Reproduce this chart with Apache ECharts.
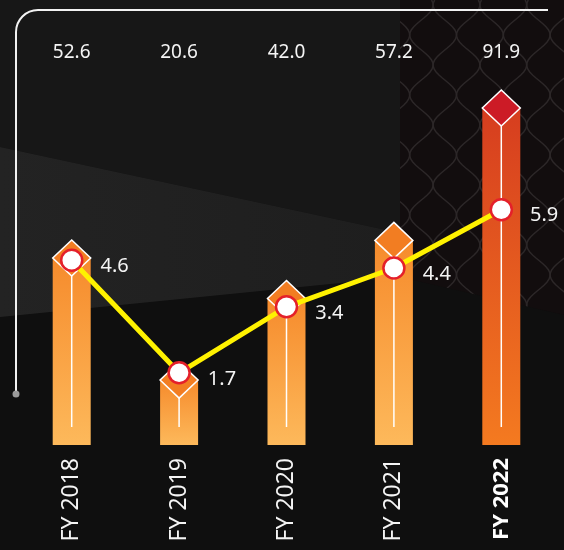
<!DOCTYPE html>
<html>
<head>
<meta charset="utf-8">
<script src="https://cdn.jsdelivr.net/npm/echarts@6/dist/echarts.min.js"></script>
<style>
  html, body { margin: 0; padding: 0; background: #111; }
  #chart { width: 564px; height: 550px; }
</style>
</head>
<body>
<div id="chart"></div>
<script>
// data
const categories = ['FY 2018', 'FY 2019', 'FY 2020', 'FY 2021', 'FY 2022'];
const barValues = [52.6, 20.6, 42.0, 57.2, 91.9];
const lineValues = [4.6, 1.7, 3.4, 4.4, 5.9];

const BAR_MIN = 3.6;
const orange = ['#f68b2c', '#fdb95b', '#f27d22'];
const red = ['#d63d1f', '#f47a20', '#cc1b26'];
const colorsFor = i => (i === categories.length - 1 ? red : orange);

var chart = echarts.init(document.getElementById('chart'));

const frame = { stroke: '#f2f2f2', lineWidth: 2, fill: 'none' };

// faint ogee lattice on the right-hand wall (decoration only)
const lattice = [];
for (let k = 0; k < 9; k++) {
  const pts = [];
  const sign = k % 2 ? -1 : 1;
  for (let y = 0; y <= 310; y += 3) {
    pts.push([398 + k * 23.4 + sign * 11.7 * Math.sin((y - 20) / 60 * 2 * Math.PI), y]);
  }
  lattice.push({ type: 'polyline', z: -9, shape: { points: pts },
    style: { stroke: '#2c2728', lineWidth: 1.5, fill: null } });
}

const wallGradient = new echarts.graphic.LinearGradient(0, 0, 1, 0, [
  { offset: 0, color: '#232323' }, { offset: 1, color: '#1e1e1e' }]);

chart.setOption({
  animation: false,
  backgroundColor: '#101010',
  textStyle: { fontFamily: 'Noto Sans' },
  grid: { left: 18, right: 9, top: 77, bottom: 105 },
  graphic: [
    // background: patterned wall at right, then left wall, lit band and floor over it
    { type: 'polygon', z: -10, shape: { points: [[400, 0], [564, 0], [564, 315], [400, 280]] },
      style: { fill: '#120d0e' } },
    ...lattice,
    { type: 'polygon', z: -8, shape: { points: [[0, 317], [400, 277], [564, 315], [564, 550], [0, 550]] },
      style: { fill: '#0f0f0f' } },
    { type: 'polygon', z: -8, shape: { points: [[0, 0], [400, 0], [400, 233], [0, 147]] },
      style: { fill: '#171717' } },
    { type: 'polygon', z: -8, shape: { points: [[0, 147], [400, 233], [400, 277], [0, 317]] },
      style: { fill: wallGradient } },
    // frame line with rounded corner
    { type: 'line', z: 5, shape: { x1: 16, y1: 394, x2: 16, y2: 32 }, style: frame },
    { type: 'arc', z: 5, shape: { cx: 38, cy: 32, r: 22, startAngle: Math.PI, endAngle: Math.PI * 1.5 },
      style: frame },
    { type: 'line', z: 5, shape: { x1: 38, y1: 10, x2: 548, y2: 10 }, style: frame },
    { type: 'circle', z: 6, shape: { cx: 16, cy: 394, r: 3.5 }, style: { fill: '#9a9a9a' } }
  ],
  xAxis: [
    {
      type: 'category',
      data: categories,
      axisLine: { show: false },
      axisTick: { show: false },
      axisLabel: {
        rotate: 90,
        margin: 13,
        color: '#f4f4f4',
        fontSize: 23,
        formatter: (v, i) => (i === categories.length - 1 ? '{b|' + v + '}' : v),
        rich: { b: { fontWeight: 'bold', fontSize: 22, color: '#fff' } }
      }
    },
    {
      type: 'category',
      position: 'top',
      data: categories,
      axisLine: { show: false },
      axisTick: { show: false },
      axisLabel: {
        margin: 15,
        color: '#f4f4f4',
        fontSize: 19,
        formatter: (v, i) => barValues[i].toFixed(1)
      }
    }
  ],
  yAxis: [
    { type: 'value', min: BAR_MIN, max: 100, show: false },
    { type: 'value', min: -0.16, max: 9.32, show: false }
  ],
  series: [
    {
      type: 'bar',
      barWidth: 38,
      z: 2,
      data: barValues.map((v, i) => ({
        value: v,
        itemStyle: {
          color: new echarts.graphic.LinearGradient(0, 0, 0, 1, [
            { offset: 0, color: colorsFor(i)[0] },
            { offset: 1, color: colorsFor(i)[1] }
          ])
        }
      }))
    },
    {
      type: 'custom',
      z: 3,
      data: barValues.map((v, i) => [i, v]),
      renderItem: (params, api) => {
        const top = api.coord([api.value(0), api.value(1)]);
        const bottom = api.coord([api.value(0), BAR_MIN]);
        return {
          type: 'line',
          shape: { x1: top[0], y1: top[1] + 18, x2: top[0], y2: bottom[1] - 18 },
          style: { stroke: '#ffffff', lineWidth: 1.5 }
        };
      }
    },
    {
      type: 'scatter',
      z: 4,
      symbol: 'diamond',
      symbolSize: [38, 36],
      data: barValues.map((v, i) => ({
        value: v,
        itemStyle: { color: colorsFor(i)[2], opacity: 1, borderColor: '#ffffff', borderWidth: 1.5 }
      }))
    },
    {
      type: 'line',
      yAxisIndex: 1,
      z: 6,
      data: lineValues,
      symbol: 'circle',
      symbolSize: 21,
      lineStyle: { color: '#fff200', width: 5 },
      itemStyle: { color: '#ffffff', borderColor: '#e4202a', borderWidth: 2.5 },
      label: {
        show: true,
        position: 'right',
        distance: 17,
        offset: [0, 6],
        color: '#f4f4f4',
        fontSize: 20,
        formatter: p => p.value.toFixed(1)
      }
    }
  ]
});
</script>
</body>
</html>
